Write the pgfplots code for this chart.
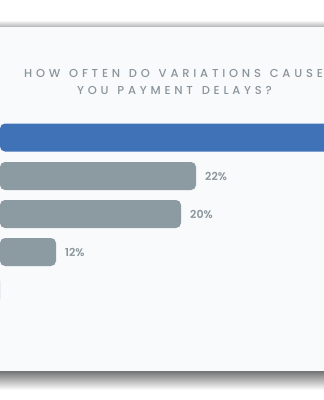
\documentclass[border=0pt]{standalone}
\usepackage{pgfplots}
\pgfplotsset{compat=1.18}
\usepackage{pgfplotstable}
\usepackage{fontspec}
\setmainfont{Poppins}
\newfontfamily\titlefont[LetterSpace=33, WordSpace=1.3]{Poppins Medium}
\newfontfamily\labelfont{Poppins SemiBold}
\definecolor{titlegray}{HTML}{8A959B}
\definecolor{bargray}{HTML}{8C9AA1}
\definecolor{barblue}{HTML}{4072B8}
\definecolor{cardbg}{HTML}{F9FAFC}

% bar end (pixel x + 30), row centre (pixel y), share in percent
\pgfplotstableread{
len row pct
226 176 22
211 214 20
86 252 12
14 290 4
}\graydata
\pgfplotstableread{
len row pct
500 137.5 46
}\bluedata

\begin{document}
\begin{tikzpicture}
\path[use as bounding box] (0,0) rectangle (324bp,400bp);
\begin{scope}
\clip (0,0) rectangle (324bp,400bp);
\fill[white] (0,0) rectangle (324bp,400bp);
\shade[top color=white, bottom color=black!30] (-5bp,373bp) rectangle (330bp,380bp);
\fill[cardbg] (-5bp,28bp) rectangle (330bp,373bp);
\shade[top color=black!52, bottom color=white] (-5bp,10bp) rectangle (330bp,28bp);
\node[inner sep=0pt, text=titlegray, font=\titlefont\fontsize{11.5bp}{13bp}\selectfont] at (173.5bp,327bp) {HOW OFTEN DO VARIATIONS CAUSE};
\node[inner sep=0pt, text=titlegray, font=\titlefont\fontsize{11.5bp}{13bp}\selectfont] at (174.5bp,310bp) {YOU PAYMENT DELAYS?};
\begin{axis}[
  at={(0,0)}, anchor=south west,
  width=324bp, height=400bp, scale only axis,
  xmin=30, xmax=354, ymin=0, ymax=400,
  y dir=reverse, hide axis,
  xbar, bar width=28bp, bar shift=0pt,
  clip=true,
  /pgf/number format/assume math mode=true,
]
\addplot[xbar, bar shift=0pt, fill=barblue, draw=none, rounded corners=5bp] table[x=len, y=row] {\bluedata};
\addplot[xbar, bar shift=0pt, fill=bargray, draw=none, rounded corners=5bp,
  point meta=explicit,
  nodes near coords={\pgfmathprintnumber{\pgfplotspointmeta}\%},
  every node near coord/.append style={anchor=west, inner sep=0pt, xshift=9bp, text=titlegray, font=\labelfont\fontsize{11bp}{13bp}\selectfont},
] table[x=len, y=row, meta=pct] {\graydata};
\end{axis}
\end{scope}
\end{tikzpicture}
\end{document}
